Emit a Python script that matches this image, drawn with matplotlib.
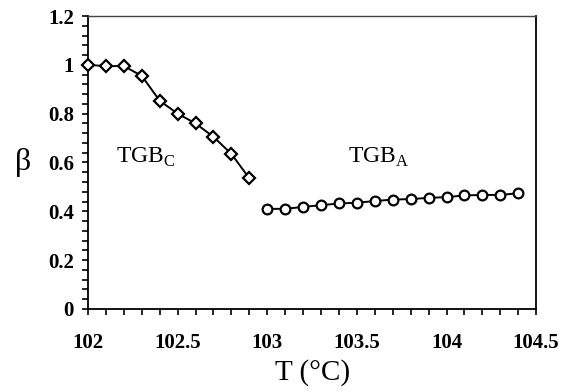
import numpy as np
from matplotlib import pyplot as plt
from matplotlib.ticker import MultipleLocator, FormatStrFormatter

# TGB_C phase
T_c = [102.0, 102.1, 102.2, 102.3, 102.4, 102.5, 102.6, 102.7, 102.8, 102.9]
beta_c = [1.0, 0.995, 0.995, 0.955, 0.853, 0.80, 0.76, 0.705, 0.635, 0.535]

# TGB_A phase
T_a = [103.0, 103.1, 103.2, 103.3, 103.4, 103.5, 103.6, 103.7, 103.8, 103.9,
       104.0, 104.1, 104.2, 104.3, 104.4]
beta_a = [0.41, 0.41, 0.418, 0.425, 0.432, 0.435, 0.442, 0.448, 0.45, 0.455,
          0.458, 0.465, 0.467, 0.467, 0.474]

plt.rcParams['font.family'] = ['Liberation Serif', 'DejaVu Serif']

fig = plt.figure(figsize=(5.79, 3.92), dpi=100)
ax = fig.add_axes([0.152, 0.212, 0.774, 0.747])

ax.plot(T_c, beta_c, color='black', lw=1.4, marker='D', ms=6.5,
        mfc='white', mec='black', mew=1.6, clip_on=False, zorder=3)
ax.plot(T_a, beta_a, color='black', lw=1.4, marker='o', ms=7,
        mfc='white', mec='black', mew=1.6, clip_on=False, zorder=3)

ax.text(102.32, 0.62, r'TGB$_{\mathregular{C}}$', fontsize=17,
        ha='center', va='center')
ax.text(103.62, 0.62, r'TGB$_{\mathregular{A}}$', fontsize=17,
        ha='center', va='center')

ax.set_xlim(102, 104.5)
ax.set_ylim(0, 1.2)
ax.xaxis.set_major_locator(MultipleLocator(0.5))
ax.xaxis.set_minor_locator(MultipleLocator(0.1))
ax.yaxis.set_major_locator(MultipleLocator(0.2))
ax.yaxis.set_minor_locator(MultipleLocator(0.04))
ax.xaxis.set_major_formatter(FormatStrFormatter('%g'))
ax.yaxis.set_major_formatter(FormatStrFormatter('%g'))

ax.tick_params(which='both', direction='out', length=4, width=1.2,
               top=False, right=False)
ax.tick_params(axis='x', which='major', pad=13)
ax.tick_params(axis='y', which='major', pad=6)
for lab in ax.get_xticklabels() + ax.get_yticklabels():
    lab.set_fontsize(15)
    lab.set_fontweight('bold')

for s in ['left', 'bottom', 'right']:
    ax.spines[s].set_linewidth(1.3)
ax.spines['top'].set_linewidth(1.0)
ax.spines['top'].set_color('#444444')

ax.set_xlabel('T (°C)', fontsize=21, labelpad=5)
ax.set_ylabel('β', fontsize=23, rotation=0, labelpad=18, va='center')

fig.savefig('out.png', dpi=100)
